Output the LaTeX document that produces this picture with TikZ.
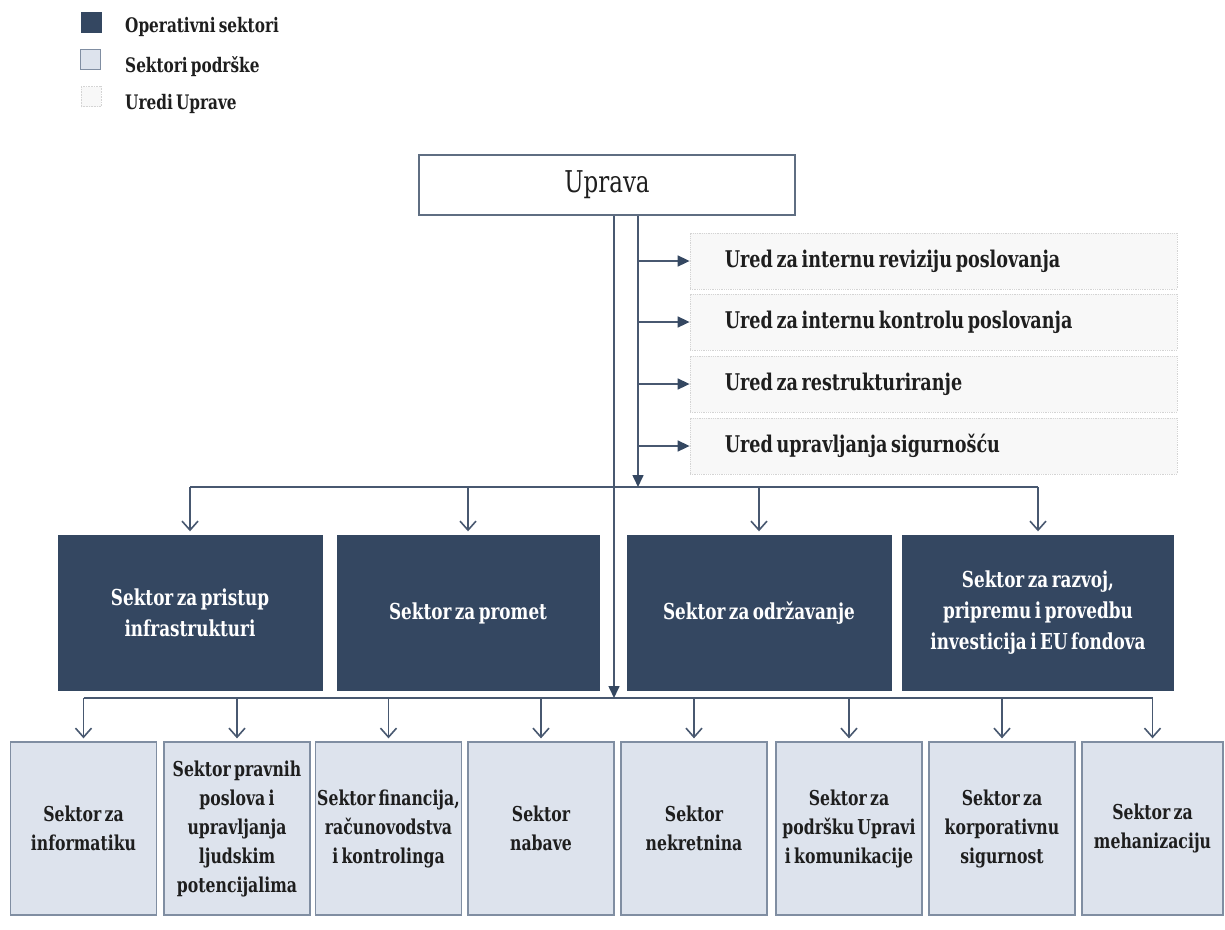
\documentclass[tikz,border=0pt]{standalone}
\usepackage{fontspec}
\setmainfont{DejaVu Serif Condensed}[FakeStretch=0.85,WordSpace=0.6]
\usetikzlibrary{arrows.meta}
\definecolor{navy}{RGB}{52,71,97}
\definecolor{linec}{RGB}{72,88,112}
\definecolor{lightfill}{RGB}{221,227,237}
\definecolor{lightdraw}{RGB}{128,142,162}
\definecolor{offfill}{RGB}{248,248,248}
\definecolor{offdraw}{RGB}{212,212,212}
\definecolor{txt}{RGB}{30,30,30}
\definecolor{upravadraw}{RGB}{95,110,130}
\begin{document}
\begin{tikzpicture}[x=1pt,y=-1pt,
  conn/.style={draw=linec, line width=1.6pt},
  tri/.style={conn, -{Triangle[length=12pt,width=11pt,color=navy]}},
  vee/.style={conn, -{Straight Barb[length=9pt,width=16pt,line width=1.6pt]}},
  legsq/.style={rectangle, inner sep=0pt, minimum size=20pt},
  legtext/.style={anchor=base west, inner sep=0pt, text=txt, font=\bfseries\fontsize{20}{24}\selectfont},
  upbox/.style={rectangle, fill=white, draw=upravadraw, line width=2pt, text=txt, font=\fontsize{30}{34}\selectfont, minimum width=376pt, minimum height=60pt, inner sep=0pt},
  opbox/.style={rectangle, fill=navy, draw=navy, text=white, font=\bfseries\fontsize{22}{31}\selectfont, align=center, inner sep=0pt, minimum height=155pt},
  supbox/.style={rectangle, fill=lightfill, draw=lightdraw, line width=1.3pt, text=txt, font=\bfseries\fontsize{20.5}{29}\selectfont, align=center, inner sep=0pt, minimum width=146pt, minimum height=173pt},
  offbox/.style={rectangle, fill=offfill, draw=offdraw, densely dotted, line width=0.8pt, inner sep=0pt, minimum width=487pt, minimum height=56pt},
  offtext/.style={anchor=west, inner sep=0pt, text=txt, font=\bfseries\fontsize{23}{28}\selectfont}
]
\useasboundingbox (0,0) rectangle (1225,929);

% legend
\node[legsq, fill=navy, draw=navy] (lg1) at (91,22) {};
\node[legsq, fill=lightfill, draw=lightdraw, line width=1pt] (lg2) at (90.5,59) {};
\node[legsq, fill=offfill, draw=offdraw, densely dotted, line width=0.6pt] (lg3) at (91,96.5) {};
\node[legtext] (lt1) at (125,32) {Operativni sektori};
\node[legtext] (lt2) at (125,72) {Sektori podrške};
\node[legtext] (lt3) at (125,109) {Uredi Uprave};

% top
\node[upbox] (uprava) at (607,185) {Uprava};

% offices
\node[offbox] (o1) at (933.5,261) {};
\node[offbox] (o2) at (933.5,322) {};
\node[offbox] (o3) at (933.5,384) {};
\node[offbox] (o4) at (933.5,446) {};
\node[offtext] (ot1) at ([xshift=35pt]o1.west) {Ured za internu reviziju poslovanja};
\node[offtext] (ot2) at ([xshift=35pt]o2.west) {Ured za internu kontrolu poslovanja};
\node[offtext] (ot3) at ([xshift=35pt]o3.west) {Ured za restrukturiranje};
\node[offtext] (ot4) at ([xshift=35pt]o4.west) {Ured upravljanja sigurnošću};

% operative sectors
\node[opbox, minimum width=264pt] (d1) at (190,613) {Sektor za pristup\\infrastrukturi};
\node[opbox, minimum width=262pt] (d2) at (468,613) {Sektor za promet};
\node[opbox, minimum width=264pt] (d3) at (759,613) {Sektor za održavanje};
\node[opbox, minimum width=271pt] (d4) at (1038,613) {Sektor za razvoj,\\pripremu i provedbu\\investicija i EU fondova};

% support sectors
\node[supbox] (s1) at (83.5,828.5) {Sektor za\\informatiku};
\node[supbox] (s2) at (237,828.5) {Sektor pravnih\\poslova i\\upravljanja\\ljudskim\\potencijalima};
\node[supbox] (s3) at (388.5,828.5) {Sektor financija,\\računovodstva\\i kontrolinga};
\node[supbox] (s4) at (541,828.5) {Sektor\\nabave};
\node[supbox] (s5) at (694,828.5) {Sektor\\nekretnina};
\node[supbox] (s6) at (849,828.5) {Sektor za\\podršku Upravi\\i komunikacije};
\node[supbox] (s7) at (1002,828.5) {Sektor za\\korporativnu\\sigurnost};
\node[supbox, minimum width=141pt] (s8) at (1152.5,828.5) {Sektor za\\mehanizaciju};

% connectors
\coordinate (jA) at (638,487);
\coordinate (jB) at (614,698);
\draw[conn] (d1.north |- jA) -- (d4.north |- jA);
\draw[conn] (s1.north |- jB) -- (s8.north |- jB);
\draw[tri] (uprava.south -| jA) -- (jA);
\draw[tri] (uprava.south -| jB) -- (jB);
\foreach \i in {1,...,4} {
  \draw[tri] (o\i.west -| jA) -- (o\i.west);
  \draw[vee, shorten >=4pt] (d\i.north |- jA) -- (d\i.north);
}
\foreach \i in {1,...,8} {
  \draw[vee, shorten >=3pt] (s\i.north |- jB) -- (s\i.north);
}
\end{tikzpicture}
\end{document}
